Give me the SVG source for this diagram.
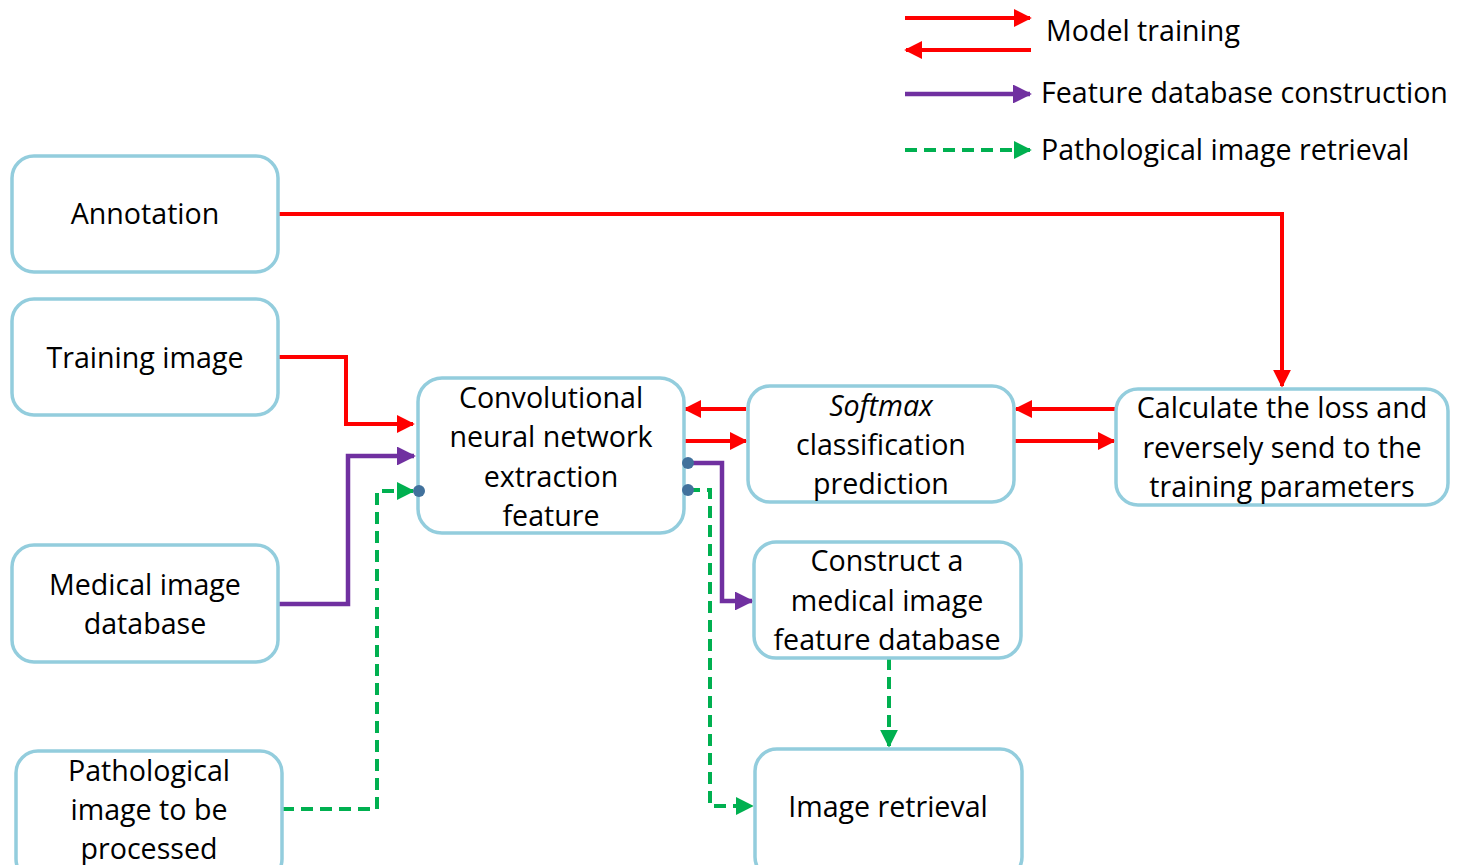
<svg xmlns="http://www.w3.org/2000/svg" width="1463" height="865" viewBox="0 0 1463 865">
<style>
.box{fill:#fff;stroke:#93CDDD;stroke-width:3.5}
.t{font-family:"Open Sans","Liberation Sans",sans-serif;font-size:28.6px;fill:#000;text-anchor:middle}
.lg{font-family:"Open Sans","Liberation Sans",sans-serif;font-size:28.6px;fill:#000}
.r{fill:none;stroke:#FF0000;stroke-width:4}
.p{fill:none;stroke:#7030A0;stroke-width:4.5}
.g{fill:none;stroke:#00B050;stroke-width:4;stroke-dasharray:12 7}
.dot{fill:#41719C}
</style>
<defs>
<marker id="ar" viewBox="0 0 10 10" refX="9" refY="5" markerWidth="4.5" markerHeight="4.5" orient="auto" markerUnits="strokeWidth"><path d="M0,0L10,5L0,10z" fill="#FF0000"/></marker>
<marker id="ap" viewBox="0 0 10 10" refX="9" refY="5" markerWidth="4.2" markerHeight="4.2" orient="auto" markerUnits="strokeWidth"><path d="M0,0L10,5L0,10z" fill="#7030A0"/></marker>
<marker id="ag" viewBox="0 0 10 10" refX="9" refY="5" markerWidth="4.5" markerHeight="4.5" orient="auto" markerUnits="strokeWidth"><path d="M0,0L10,5L0,10z" fill="#00B050"/></marker>
</defs>
<rect width="1463" height="865" fill="#fff"/>
<g id="legend">
<path class="r" d="M905,18H1030" marker-end="url(#ar)"/>
<path class="r" d="M1031,50H906" marker-end="url(#ar)"/>
<text class="lg" x="1046" y="41">Model training</text>
<path class="p" d="M905,94H1030" marker-end="url(#ap)"/>
<text class="lg" x="1041" y="103">Feature database construction</text>
<path class="g" d="M905,150H1030" marker-end="url(#ag)"/>
<text class="lg" x="1041" y="160">Pathological image retrieval</text>
</g>
<g id="connectors">
<path class="r" d="M278,214H1282V386" marker-end="url(#ar)"/>
<path class="r" d="M278,357H346V424H413" marker-end="url(#ar)"/>
<path class="p" d="M278,604H348V456H414" marker-end="url(#ap)"/>
<path class="g" d="M282,809H377V491H413" marker-end="url(#ag)"/>
<path class="r" d="M746,409H685" marker-end="url(#ar)"/>
<path class="r" d="M684,441H746" marker-end="url(#ar)"/>
<path class="r" d="M1116,409H1016" marker-end="url(#ar)"/>
<path class="r" d="M1014,441H1114" marker-end="url(#ar)"/>
<path class="p" d="M688,463H722V601H752" marker-end="url(#ap)"/>
<path class="g" d="M688,490H710V806H752" marker-end="url(#ag)"/>
<path class="g" d="M889,658V746" marker-end="url(#ag)"/>
</g>
<g id="n-annotation"><rect class="box" x="12" y="156" width="266" height="116" rx="22"/><text class="t" x="145" y="224">Annotation</text></g>
<g id="n-training"><rect class="box" x="12" y="299" width="266" height="116" rx="22"/><text class="t" x="145" y="368">Training image</text></g>
<g id="n-medical"><rect class="box" x="12" y="545" width="266" height="117" rx="22"/><text class="t" x="145" y="595">Medical image</text><text class="t" x="145" y="634">database</text></g>
<g id="n-patho"><rect class="box" x="16" y="751" width="266" height="130" rx="22"/><text class="t" x="149" y="781">Pathological</text><text class="t" x="149" y="820">image to be</text><text class="t" x="149" y="859">processed</text></g>
<g id="n-cnn"><rect class="box" x="418" y="378" width="266" height="155" rx="24"/><text class="t" x="551" y="408">Convolutional</text><text class="t" x="551" y="447">neural network</text><text class="t" x="551" y="487">extraction</text><text class="t" x="551" y="526">feature</text>
<circle class="dot" cx="419" cy="491" r="6"/><circle class="dot" cx="688" cy="463" r="6"/><circle class="dot" cx="688" cy="490" r="6"/></g>
<g id="n-softmax"><rect class="box" x="748" y="386" width="266" height="116" rx="22"/><text class="t" x="881" y="416" font-style="italic">Softmax</text><text class="t" x="881" y="455">classification</text><text class="t" x="881" y="494">prediction</text></g>
<g id="n-calc"><rect class="box" x="1116" y="389" width="332" height="116" rx="22"/><text class="t" x="1282" y="418">Calculate the loss and</text><text class="t" x="1282" y="458">reversely send to the</text><text class="t" x="1282" y="497">training parameters</text></g>
<g id="n-construct"><rect class="box" x="754" y="542" width="267" height="116" rx="22"/><text class="t" x="887" y="571">Construct a</text><text class="t" x="887" y="611">medical image</text><text class="t" x="887" y="650">feature database</text></g>
<g id="n-retrieval"><rect class="box" x="755" y="749" width="267" height="130" rx="22"/><text class="t" x="888" y="817">Image retrieval</text></g>
</svg>
